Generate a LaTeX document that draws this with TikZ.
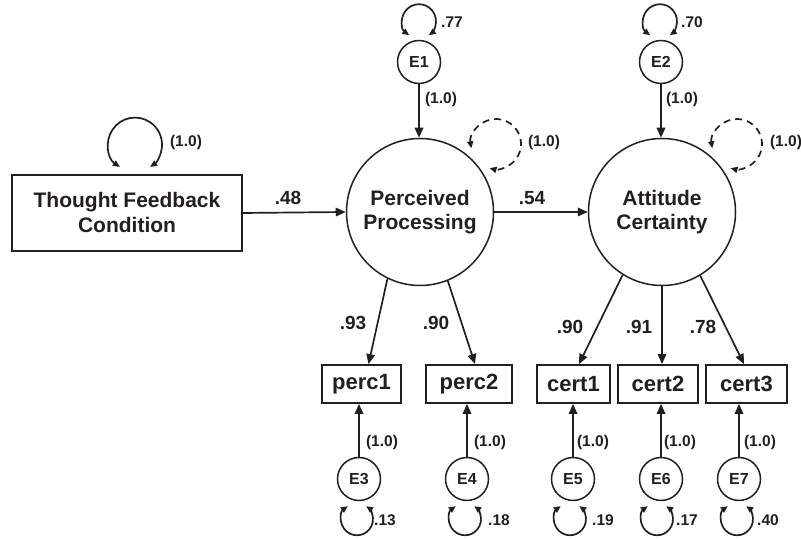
\documentclass[tikz,border=0pt]{standalone}
\usepackage{fontspec}
\setmainfont{Liberation Sans}
\usetikzlibrary{arrows.meta}
\definecolor{ink}{RGB}{35,31,32}
\begin{document}
\begin{tikzpicture}[x=1pt,y=1pt,
  every node/.style={text=ink, font=\bfseries},
  obs/.style={draw=ink, line width=1.8pt, rectangle, inner sep=0pt, minimum height=38pt},
  latent/.style={draw=ink, line width=1.5pt, circle, inner sep=0pt, minimum size=147pt,
                 align=center, font=\bfseries\fontsize{21}{24}\selectfont},
  err/.style={draw=ink, line width=1.5pt, circle, inner sep=0pt, minimum size=43pt,
              font=\bfseries\fontsize{16}{18}\selectfont},
  path/.style={draw=ink, line width=1.7pt, -{Triangle[length=10pt,width=8.5pt]}},
  varloop/.style={draw=ink, line width=1.7pt, {Triangle[length=7pt,width=6pt]}-{Triangle[length=7pt,width=6pt]}},
  dashloop/.style={varloop, dash pattern=on 7pt off 5pt},
  coef/.style={font=\bfseries\fontsize{19}{21}\selectfont},
  small/.style={font=\bfseries\fontsize{15.5}{17}\selectfont},
  boxlabel/.style={font=\bfseries\fontsize{22}{24}\selectfont}
]
\useasboundingbox (0,0) rectangle (801,540);

% exogenous predictor
\node[obs, minimum width=230pt, minimum height=76pt, align=center,
      font=\bfseries\fontsize{21}{25}\selectfont] (tfc) at (127,327)
      {Thought Feedback\\Condition};

% latent factors
\node[latent] (pp) at (420,328) {Perceived\\Processing};
\node[latent] (ac) at (662,328) {Attitude\\Certainty};

% disturbances of the latent factors
\node[err] (e1) at (419,478) {E1};
\node[err] (e2) at (661,478) {E2};

% indicators
\node[obs, boxlabel, minimum width=79pt] (perc1) at (361.5,156) {perc1};
\node[obs, boxlabel, minimum width=86pt] (perc2) at (469,156) {perc2};
\node[obs, boxlabel, minimum width=73pt] (cert1) at (573.5,156) {cert1};
\node[obs, boxlabel, minimum width=80pt] (cert2) at (658,156) {cert2};
\node[obs, boxlabel, minimum width=81pt] (cert3) at (746.5,156) {cert3};

% measurement errors
\node[err] (e3) at (359,61) {E3};
\node[err] (e4) at (467,61) {E4};
\node[err] (e5) at (573,61) {E5};
\node[err] (e6) at (661,61) {E6};
\node[err] (e7) at (739,61) {E7};

% structural paths
\draw[path] (tfc.east) -- (pp.west);
\draw[path] (pp.east) -- (ac.west);
\node[coef] (c48) at (288,342) {.48};
\node[coef] (c54) at (532,342) {.54};

% disturbance paths
\draw[path] (e1.south) -- (e1.south |- pp.north);
\draw[path] (e2.south) -- (e2.south |- ac.north);
\node[small] (l1) at (441,440) {(1.0)};
\node[small] (l2) at (682,440) {(1.0)};

% factor loadings
\draw[path] (pp.244.5) -- ([xshift=7pt]perc1.north);
\draw[path] (pp.292) -- ([xshift=6pt]perc2.north);
\draw[path] (ac.238) -- ([xshift=5.5pt]cert1.north);
\draw[path] (ac.south) -- (ac.south |- cert2.north);
\draw[path] (ac.301.6) -- ([xshift=-2.5pt]cert3.north);
\node[coef] (c93) at (353,217) {.93};
\node[coef] (c90a) at (436,217) {.90};
\node[coef] (c90b) at (570,213) {.90};
\node[coef] (c91) at (639,213) {.91};
\node[coef] (c78) at (703,213) {.78};

% error paths to indicators
\foreach \e/\v in {e3/perc1, e4/perc2, e5/cert1, e6/cert2, e7/cert3}
  \draw[path] (\e.north) -- (\e.north |- \v.south);
\node[small] (l3) at (382,98) {(1.0)};
\node[small] (l4) at (490,98) {(1.0)};
\node[small] (l5) at (593,98) {(1.0)};
\node[small] (l6) at (680,98) {(1.0)};
\node[small] (l7) at (760,98) {(1.0)};

% variance loops above
\coordinate (tfcloop) at ([xshift=8pt,yshift=29.5pt]tfc.north);
\draw[varloop] ([shift={(236:27)}]tfcloop) arc[start angle=236, end angle=-56, radius=27];
\node[small] (ltfc) at (186,397) {(1.0)};

\coordinate (e1loop) at ([yshift=18.5pt]e1.north);
\draw[varloop] ([shift={(235:17)}]e1loop) arc[start angle=235, end angle=-55, radius=17];
\node[small] (v1) at (452,518) {.77};

\coordinate (e2loop) at ([xshift=-1pt,yshift=18.5pt]e2.north);
\draw[varloop] ([shift={(235:17)}]e2loop) arc[start angle=235, end angle=-55, radius=17];
\node[small] (v2) at (692,518) {.70};

% fixed factor variances (dashed)
\coordinate (pploop) at ([xshift=76pt,yshift=68pt]pp.center);
\draw[dashloop] ([shift={(190:25)}]pploop) arc[start angle=190, end angle=-105, radius=25];
\node[small] (lpp) at (544,397) {(1.0)};

\coordinate (acloop) at ([xshift=75pt,yshift=68pt]ac.center);
\draw[dashloop] ([shift={(190:25)}]acloop) arc[start angle=190, end angle=-105, radius=25];
\node[small] (lac) at (786,397) {(1.0)};

% variance loops below the measurement errors
\foreach \e/\dx/\val/\lx in {e3/-2/.13/385, e4/-2/.18/499, e5/-3/.19/603, e6/-4/.17/687, e7/-2/.40/768}{
  \coordinate (\e loop) at ([xshift=\dx pt,yshift=-18pt]\e.south);
  \draw[varloop] ([shift={(125:16)}]\e loop) arc[start angle=125, end angle=415, radius=16];
  \node[small] at (\lx,20) {\val};
}
\end{tikzpicture}
\end{document}
